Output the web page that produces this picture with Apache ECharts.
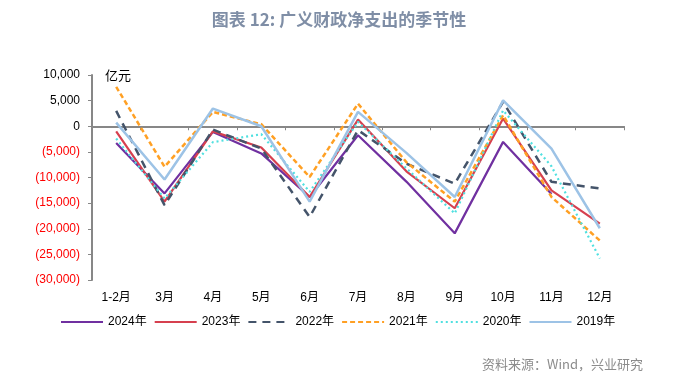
<!DOCTYPE html>
<html><head><meta charset="utf-8">
<script src="https://cdn.jsdelivr.net/npm/echarts@6/dist/echarts.min.js"></script>
<style>html,body{margin:0;padding:0;background:#fff}#c{width:678px;height:381px}</style>
</head><body><div id="c"></div>
<script>
var categories = ['1-2月','3月','4月','5月','6月','7月','8月','9月','10月','11月','12月'];
var s2024 = [-3250,-13100,-1100,-5300,-13800,-1750,-10800,-20900,-3050,-13200,null];
var s2023 = [-1000,-14700,-1000,-4150,-13800,1300,-8800,-16000,1500,-12500,-19000];
var s2022 = [3000,-15400,-650,-4350,-17700,-750,-7300,-11200,4750,-10850,-12150];
var s2021 = [7700,-7900,2800,400,-9900,4400,-7000,-14700,2150,-13800,-22300];
var s2020 = [-2400,-14100,-3100,-1550,-12800,850,-8200,-17000,3100,-7800,-25800];
var s2019 = [700,-10400,3450,0,-14700,2800,-5200,-13800,5050,-4350,-19900];
var seriesNames = ['2024年','2023年','2022年','2021年','2020年','2019年'];
var yTicks = {min:-30000, max:10000, interval:5000};

function fmt(v){
  var s = Math.abs(v).toLocaleString('en-US');
  if (v < 0) return '{neg|(' + s + ')}';
  return '{pos|' + s + '}';
}
var chart = echarts.init(document.getElementById('c'), null, {renderer:'canvas'});
function mk(name, data, color, width, type){
  return {name:name, type:'line', data:data, symbol:'none', xAxisIndex:0,
    lineStyle:{color:color, width:width, type:type}, itemStyle:{color:color}, z: 2};
}
var opt = {
  animation:false,
  title:{text:'图表 12: 广义财政净支出的季节性', left:'center', top:6,
    textStyle:{color:'#7f8ea6', fontSize:17, fontWeight:'bold', fontFamily:'Noto Sans CJK SC'}},
  grid:{left:92, right:54, top:75, bottom:101},
  legend:{data:seriesNames, left:55, top:311, itemWidth:42, itemHeight:10, itemGap:7,
    itemStyle:{opacity:0},
    textStyle:{fontSize:12, color:'#000', fontFamily:'Liberation Sans, Noto Sans CJK SC'}},
  xAxis:[
    {type:'category', data:categories, position:'bottom',
      axisLine:{onZero:true, lineStyle:{color:'#878787', width:2}},
      axisTick:{show:true, length:4, lineStyle:{color:'#878787', width:1}},
      axisLabel:{show:false}, splitLine:{show:false}},
    {type:'category', data:categories, position:'bottom',
      axisLine:{show:false, onZero:false}, axisTick:{show:false},
      axisLabel:{show:true, margin:12, color:'#000', fontSize:12, fontFamily:'Liberation Sans, Noto Sans CJK SC'},
      splitLine:{show:false}}
  ],
  yAxis:{type:'value', min:yTicks.min, max:yTicks.max, interval:yTicks.interval,
    name:'亿元', nameLocation:'end', nameGap:0,
    nameTextStyle:{align:'left', verticalAlign:'middle', padding:[0,0,0,13], fontSize:13, color:'#000', fontFamily:'Noto Sans CJK SC'},
    axisLine:{show:true, lineStyle:{color:'#878787', width:2}},
    axisTick:{show:true, length:4, lineStyle:{color:'#878787'}},
    splitLine:{show:false},
    axisLabel:{margin:12, formatter:fmt, fontFamily:'Liberation Sans',
      rich:{pos:{color:'#000', fontSize:12, fontFamily:'Liberation Sans'}, neg:{color:'#ff0000', fontSize:12, fontFamily:'Liberation Sans'}}}},
  series:[
    mk('2024年', s2024, '#7030a0', 2.2, 'solid'),
    mk('2023年', s2023, '#d6404f', 2.2, 'solid'),
    mk('2022年', s2022, '#44546a', 2.5, [8,6]),
    mk('2021年', s2021, '#ffa024', 2.5, [5,3]),
    mk('2020年', s2020, '#4fe0e0', 2.2, [2,3]),
    mk('2019年', s2019, '#9dc3e6', 2.5, 'solid')
  ],
  graphic:[{type:'text', left:482, top:358, style:{text:'资料来源：Wind，兴业研究', fill:'#8c8c8c', fontSize:13, fontFamily:'Noto Sans CJK SC'}}]
};
chart.setOption(opt);
</script></body></html>
